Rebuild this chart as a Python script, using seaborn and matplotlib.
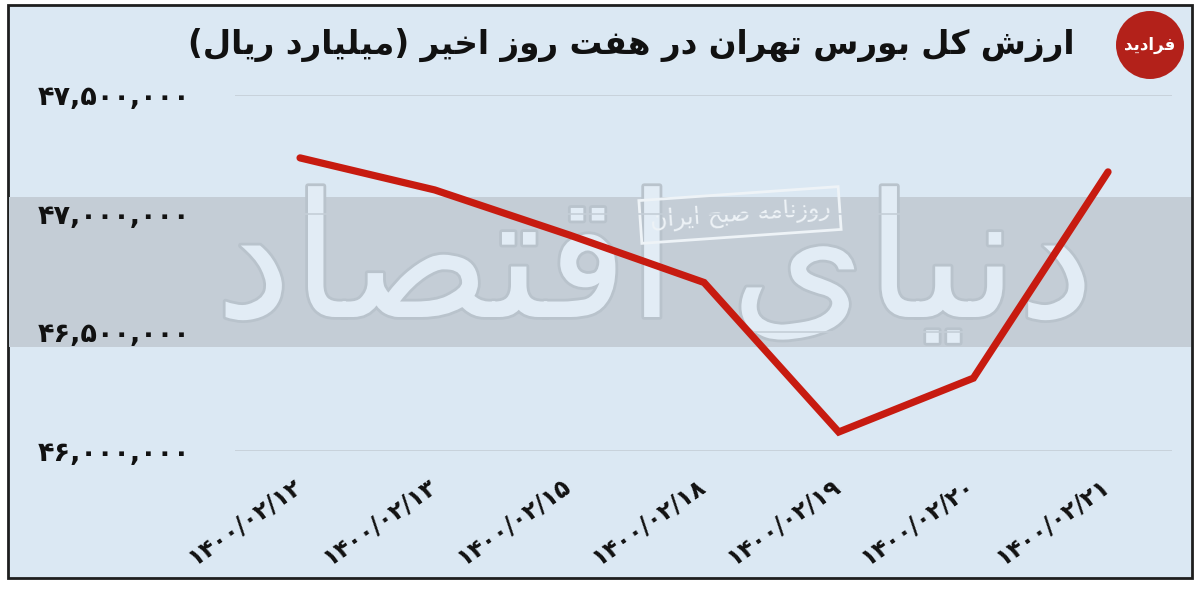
import matplotlib
matplotlib.use("Agg")
import matplotlib.pyplot as plt
import matplotlib.patheffects as pe
import matplotlib.transforms as mtransforms
from matplotlib.patches import Rectangle, Ellipse
from matplotlib.ticker import FuncFormatter
import seaborn as sns
import numpy as np
import pandas as pd

# data
dates = ["۱۴۰۰/۰۲/۱۲", "۱۴۰۰/۰۲/۱۳", "۱۴۰۰/۰۲/۱۵", "۱۴۰۰/۰۲/۱۸",
         "۱۴۰۰/۰۲/۱۹", "۱۴۰۰/۰۲/۲۰", "۱۴۰۰/۰۲/۲۱"]
values = [47235000, 47100000, 46910000, 46710000, 46080000, 46307000, 47176000]
yticks = [46000000, 46500000, 47000000, 47500000]

title = "ارزش کل بورس تهران در هفت روز اخیر (میلیارد ریال)"
stamp = "روزنامه صبح ایران"
watermark = "دنیای اقتصاد"
logo = "فرادید"

# arabic letter forms: (isolated, final, initial, medial); 2-tuples join to the right only
FORMS = {
    'ا': ('\uFE8D', '\uFE8E'), 'د': ('\uFEA9', '\uFEAA'), 'ر': ('\uFEAD', '\uFEAE'),
    'ز': ('\uFEAF', '\uFEB0'), 'و': ('\uFEED', '\uFEEE'),
    'ب': ('\uFE8F', '\uFE90', '\uFE91', '\uFE92'), 'ت': ('\uFE95', '\uFE96', '\uFE97', '\uFE98'),
    'ح': ('\uFEA1', '\uFEA2', '\uFEA3', '\uFEA4'), 'خ': ('\uFEA5', '\uFEA6', '\uFEA7', '\uFEA8'),
    'س': ('\uFEB1', '\uFEB2', '\uFEB3', '\uFEB4'), 'ش': ('\uFEB5', '\uFEB6', '\uFEB7', '\uFEB8'),
    'ص': ('\uFEB9', '\uFEBA', '\uFEBB', '\uFEBC'), 'ف': ('\uFED1', '\uFED2', '\uFED3', '\uFED4'),
    'ق': ('\uFED5', '\uFED6', '\uFED7', '\uFED8'), 'ل': ('\uFEDD', '\uFEDE', '\uFEDF', '\uFEE0'),
    'م': ('\uFEE1', '\uFEE2', '\uFEE3', '\uFEE4'), 'ن': ('\uFEE5', '\uFEE6', '\uFEE7', '\uFEE8'),
    'ه': ('\uFEE9', '\uFEEA', '\uFEEB', '\uFEEC'), 'ی': ('\uFBFC', '\uFBFD', '\uFBFE', '\uFBFF'),
    'ک': ('\uFB8E', '\uFB8F', '\uFB90', '\uFB91'),
}


def shape(text):
    # join letters and turn the line round, matplotlib draws left to right
    out = []
    for i, ch in enumerate(text):
        forms = FORMS.get(ch)
        if forms is None:
            out.append(ch)
            continue
        prev = text[i - 1] if i > 0 else ''
        nxt = text[i + 1] if i + 1 < len(text) else ''
        jp = prev in FORMS and len(FORMS[prev]) == 4
        jn = len(forms) == 4 and nxt in FORMS
        if jp and jn:
            out.append(forms[3])
        elif jp:
            out.append(forms[1])
        elif jn:
            out.append(forms[2])
        else:
            out.append(forms[0])
    mirror = {'(': ')', ')': '('}
    return ''.join(mirror.get(c, c) for c in reversed(out))


fa_digits = str.maketrans('0123456789', '۰۱۲۳۴۵۶۷۸۹')

sns.set_style("white")
plt.rcParams['font.family'] = ['DejaVu Sans']

df = pd.DataFrame({'pos': np.arange(len(dates)), 'value': values})

fig = plt.figure(figsize=(12, 5.9), dpi=100)
W, H = 1200, 590

# frame and grey band
fig.add_artist(Rectangle((8 / W, 1 - 578 / H), 1184 / W, 573 / H, transform=fig.transFigure,
                         facecolor='#dbe8f3', edgecolor='#1e1e1e', lw=2, zorder=0))
fig.add_artist(Rectangle((9 / W, 1 - 347 / H), 1182 / W, 150 / H, transform=fig.transFigure,
                         facecolor='#c4cdd6', edgecolor='none', zorder=0.1))

fig.text(655 / W, 1 - 270 / H, shape(watermark), ha='center', va='center', fontsize=124,
         color='#e2ecf5', zorder=0.2,
         path_effects=[pe.withStroke(linewidth=4, foreground='#b9c3cc')])

fig.text(740 / W, 1 - 215 / H, shape(stamp), ha='center', va='center', fontsize=17,
         rotation=4, color='#eef3f7', zorder=0.3,
         bbox=dict(boxstyle='square,pad=0.4', fc='none', ec='#eef3f7', lw=2))

ax = fig.add_axes([235 / W, 1 - 451 / H, 937 / W, 356 / H])
ax.set_facecolor('none')
ax.patch.set_alpha(0)
ax.set_zorder(1)

sns.lineplot(data=df, x='pos', y='value', ax=ax, color='#c71b10', lw=5.2,
             solid_capstyle='round', solid_joinstyle='miter')

ax.set_xlim(-0.483, 6.475)
ax.set_ylim(46000000, 47500000)
ax.set_yticks(yticks)
ax.yaxis.set_major_formatter(FuncFormatter(lambda v, p: f"{int(v):,}".translate(fa_digits)))
ax.set_xticks(df['pos'])
ax.set_xticklabels(dates, rotation=35, ha='right', va='top', rotation_mode='anchor')
ax.tick_params(axis='y', length=0, pad=32, labelsize=19.5)
ax.tick_params(axis='x', length=0, pad=16, labelsize=17)
shift = mtransforms.ScaledTranslation(-8 / 100, 0, fig.dpi_scale_trans)
for lab in ax.get_xticklabels():
    lab.set_transform(lab.get_transform() + shift)
for lab in ax.get_xticklabels() + ax.get_yticklabels():
    lab.set_fontweight('bold')
    lab.set_color('#111111')
ax.grid(axis='y', color='#c5ced7', lw=1.2)
ax.grid(axis='x', visible=False)
ax.set_xlabel('')
ax.set_ylabel('')
sns.despine(ax=ax, left=True, bottom=True)

fig.text(1075 / W, 1 - 45 / H, shape(title), ha='right', va='center', fontsize=23.5,
         fontweight='bold', color='#111111')

fig.add_artist(Ellipse((1150 / W, 1 - 45 / H), 68 / W, 68 / H, transform=fig.transFigure,
                       facecolor='#b3211a', edgecolor='none'))
fig.text(1150 / W, 1 - 45 / H, shape(logo), ha='center', va='center', fontsize=12,
         fontweight='bold', color='white')

fig.savefig('out.png', dpi=100)
